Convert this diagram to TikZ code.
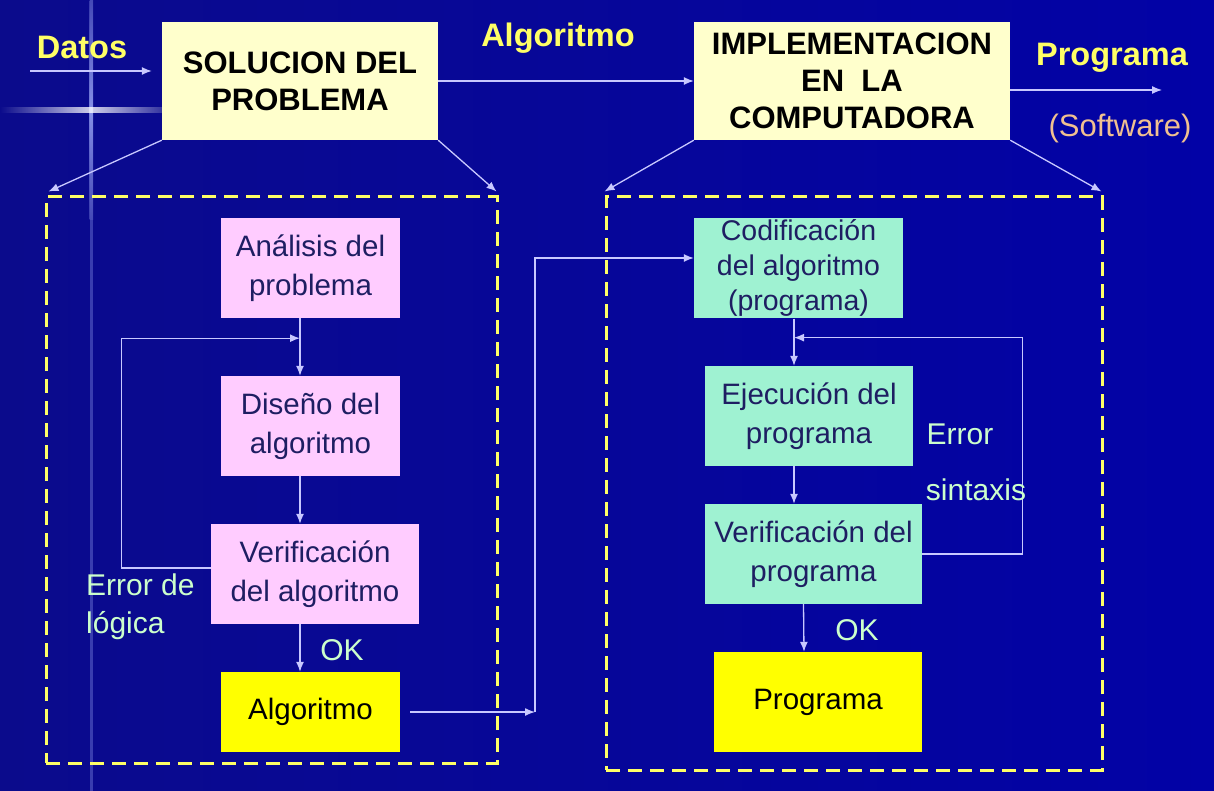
\documentclass[tikz,border=0pt]{standalone}
\usepackage{fontspec}
\setmainfont{Liberation Sans}
\usetikzlibrary{positioning,arrows.meta,calc}
\definecolor{uBgL}{HTML}{0B0B8C}
\definecolor{uBgM}{HTML}{0A0A7C}
\definecolor{uBgR}{HTML}{0202A6}
\definecolor{uGlow}{HTML}{A8B4FF}
\definecolor{uCream}{HTML}{FFFFCC}
\definecolor{uPink}{HTML}{FFCCFF}
\definecolor{uMint}{HTML}{9FF2D2}
\definecolor{uGold}{HTML}{FFFF00}
\definecolor{uInk}{HTML}{1E1E62}
\definecolor{uWire}{HTML}{C8C8FF}
\definecolor{uTag}{HTML}{FFFF66}
\definecolor{uNote}{HTML}{CCFFCC}
\definecolor{uSoft}{HTML}{F0C090}
\tikzset{
  blk/.style={align=center, inner sep=2pt, text=uInk,
              font=\fontsize{29.5}{39}\selectfont},
  head/.style={blk, fill=uCream, text=black,
               font=\bfseries\fontsize{31}{37}\selectfont},
  pink/.style={blk, fill=uPink, minimum width=179pt, minimum height=100pt},
  mint/.style={blk, fill=uMint, minimum width=208pt, minimum height=100pt},
  gold/.style={blk, fill=uGold, text=black, minimum width=179pt,
               minimum height=80pt},
  frame/.style={draw=uTag, line width=3pt, dash pattern=on 14pt off 8pt},
  flow/.style={-{Latex[length=10pt,width=8pt]}, draw=uWire, line width=1.3pt},
  tag/.style={font=\bfseries\fontsize{32.5}{36}\selectfont, text=uTag},
  note/.style={font=\fontsize{30}{38}\selectfont, text=uNote, align=left,
               inner sep=0pt},
}

\begin{document}
\begin{tikzpicture}[x=1pt, y=-1pt]

%% ── background ──────────────────────────────────────────────────────────
\shade[left color=uBgL, middle color=uBgM, right color=uBgR]
  (0,0) rectangle (1214,791);
\useasboundingbox (0,0) rectangle (1214,791);
\fill[uGlow, opacity=0.3] (90,0) rectangle (92.5,791);
\shade[top color=uGlow!40!uBgL, bottom color=uGlow!40!uBgL, middle color=uGlow,
       opacity=0.7] (89.5,0) rectangle (93,220);
\shade[left color=uBgL, right color=uBgL, middle color=white, opacity=0.8]
  (0,108) rectangle (182,112.5);

\coordinate (lcol) at (300,0);   % x of the left flow
\coordinate (rcol) at (794,0);   % x of the right flow

%% ── top row ─────────────────────────────────────────────────────────────
\node[head, minimum width=276pt, minimum height=118pt] (sol) at (300,81)
  {SOLUCION DEL\\PROBLEMA};
\node[head, minimum width=316pt, minimum height=118pt] (impl) at (852,81)
  {IMPLEMENTACION\\EN\ \ LA\\COMPUTADORA};
\node[tag] (datos) at (82,47) {Datos};
\node[tag] (algtag) at (558,38) {Algoritmo};
\node[tag] (progtag) at (1112,58) {Programa};
\node[font=\fontsize{31}{34}\selectfont, text=uSoft] (soft) at (1120,128)
  {(Software)};

\coordinate (din) at (30,71);
\coordinate (pout) at (1162,90);
\draw[flow] (din) -- ($(din -| sol.west)+(-10,0)$);
\draw[flow] (sol.east) -- (impl.west);
\draw[flow] (pout -| impl.east) -- (pout);

%% ── dashed frames ───────────────────────────────────────────────────────
\node[frame, minimum width=451pt, minimum height=566pt] (frmA) at (271.5,480) {};
\node[frame, minimum width=496pt, minimum height=573pt] (frmB) at (854,483.5) {};
\draw[flow] (sol.south west) -- ($(frmA.north west)+(4,-4)$);
\draw[flow] (sol.south east) -- ($(frmA.north east)+(-2,-4)$);
\draw[flow] (impl.south west) -- ($(frmB.north west)+(0,-4)$);
\draw[flow] (impl.south east) -- ($(frmB.north east)+(-2,-4)$);

%% ── solucion del problema ───────────────────────────────────────────────
\node[pink] (ana) at (310.5,268) {Análisis del\\problema};
\node[pink] (dis) at (310.5,426) {Diseño del\\algoritmo};
\node[pink, minimum width=208pt] (vera) at (315,574)
  {Verificación\\del algoritmo};
\node[gold] (alg) at (310.5,712) {Algoritmo};

\draw[flow] (ana.south -| lcol) -- (dis.north -| lcol);
\draw[flow] (dis.south -| lcol) -- (vera.north -| lcol);
\draw[flow] (vera.south -| lcol) -- (alg.north -| lcol);
\draw[flow] ($(vera.west)+(0,-6)$) -- ++(-89,0) |- ($(ana.south -| lcol)+(0,20)$);
\node[note, anchor=north west] (elog) at (86,574) {Error de\\lógica};
\node[note] (okA) at (342,650) {OK};

%% ── implementacion ──────────────────────────────────────────────────────
\node[mint, minimum width=209pt, font=\fontsize{28.5}{35}\selectfont] (cod)
  at (798.5,268) {Codificación\\del algoritmo\\(programa)};
\node[mint] (eje) at (809,416) {Ejecución del\\programa};
\node[mint, minimum width=217pt] (verp) at (813.5,554)
  {Verificación del\\programa};
\node[gold, minimum width=208pt, minimum height=100pt] (prog) at (818,702)
  {Programa};

\draw[flow] (cod.south -| rcol) -- (eje.north -| rcol);
\draw[flow] (eje.south -| rcol) -- (verp.north -| rcol);
\draw[flow] ($(verp.south)+(-10,0)$) -- ($(prog.north)+(-14,0)$);
\draw[flow] (verp.east) -- ++(100,0) |- ($(cod.south -| rcol)+(0,19)$);
\node[note] (err) at (960,434) {Error};
\node[note] (sint) at (976,490) {sintaxis};
\node[note] (okB) at (857,630) {OK};

%% ── algoritmo into codificacion ─────────────────────────────────────────
\coordinate (jog) at (535,712);
\draw[flow] ($(alg.east)+(10,0)$) -- (jog);
\draw[flow] (jog) |- ($(cod.west)+(0,-10)$);

\end{tikzpicture}
\end{document}
